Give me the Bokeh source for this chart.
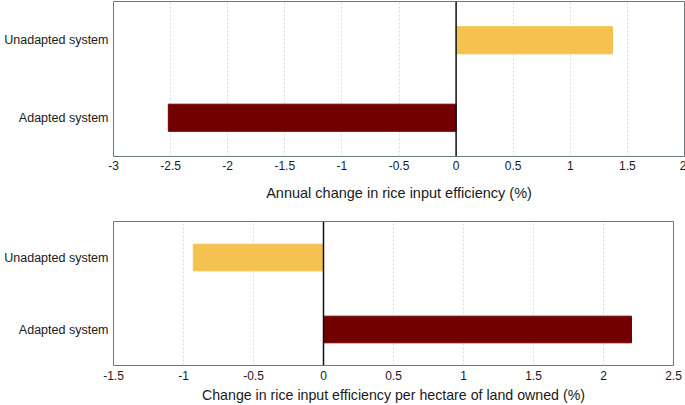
from bokeh.plotting import figure
from bokeh.models import Span, ColumnDataSource, FactorRange, Range1d, FixedTicker
from bokeh.layouts import column
from bokeh.embed import file_html
from bokeh.resources import INLINE

categories = ["Adapted system", "Unadapted system"]
annual_change = [-2.52, 1.37]
per_hectare_change = [2.20, -0.93]
bar_colors = ["#730000", "#F6C24F"]
top_ticks = [-3, -2.5, -2, -1.5, -1, -0.5, 0, 0.5, 1, 1.5, 2]
bottom_ticks = [-1.5, -1, -0.5, 0, 0.5, 1, 1.5, 2, 2.5]

FONT = "Liberation Sans"


def make_fig(values, xrange, ticks, title, fw, fh, ml, mr, mt, mb,
             bar_h, title_size, title_standoff, tick_standoff, ylab_standoff):
    src = ColumnDataSource(dict(cat=categories, val=values, color=bar_colors))
    p = figure(y_range=FactorRange(*categories, range_padding=0),
               x_range=Range1d(*xrange),
               frame_width=fw, frame_height=fh, output_backend="svg",
               toolbar_location=None,
               min_border_left=ml, min_border_right=mr,
               min_border_top=mt, min_border_bottom=mb)
    p.hbar(y="cat", left=0, right="val", height=bar_h, color="color",
           line_color="color", source=src)
    p.add_layout(Span(location=0, dimension="height", line_color="#111111",
                      line_width=1.5))
    p.xaxis.ticker = FixedTicker(ticks=ticks)
    p.xaxis.major_label_overrides = {t: (str(t) if t != int(t) else str(int(t)))
                                     for t in ticks}
    p.xaxis.axis_label = title
    p.xaxis.axis_label_text_font = FONT
    p.xaxis.axis_label_text_font_style = "normal"
    p.xaxis.axis_label_text_font_size = title_size
    p.xaxis.axis_label_text_color = "#1a1a1a"
    p.xaxis.axis_label_standoff = title_standoff
    for ax in (p.xaxis, p.yaxis):
        ax.major_label_text_font = FONT
        ax.major_label_text_color = "#1a1a1a"
        ax.major_tick_line_color = None
        ax.minor_tick_line_color = None
        ax.major_tick_out = 0
        ax.major_tick_in = 0
        ax.minor_tick_out = 0
        ax.minor_tick_in = 0
        ax.axis_line_color = None
    p.xaxis.major_label_text_font_size = "12px"
    p.yaxis.major_label_text_font_size = "12.5px"
    p.xaxis.major_label_standoff = tick_standoff
    p.yaxis.major_label_standoff = ylab_standoff
    p.ygrid.grid_line_color = None
    p.xgrid.grid_line_color = "#d5dce0"
    p.xgrid.grid_line_dash = "2 2"
    p.outline_line_color = "#6e777c"
    p.outline_line_width = 1
    p.background_fill_color = "white"
    p.border_fill_color = "white"
    return p


p1 = make_fig(annual_change, (-3, 2), top_ticks,
              "Annual change in rice input efficiency (%)",
              571, 155, 111, 3, 1, 49, 0.35, "14.5px", 12, 4, 5)
p2 = make_fig(per_hectare_change, (-1.5, 2.5), bottom_ticks,
              "Change in rice input efficiency per hectare of land owned (%)",
              560, 144, 113, 12, 16, 40, 0.37, "14.2px", 4, 5, 5)

layout = column(p1, p2, spacing=0)

open("out.html", "w").write(file_html(layout, INLINE))
